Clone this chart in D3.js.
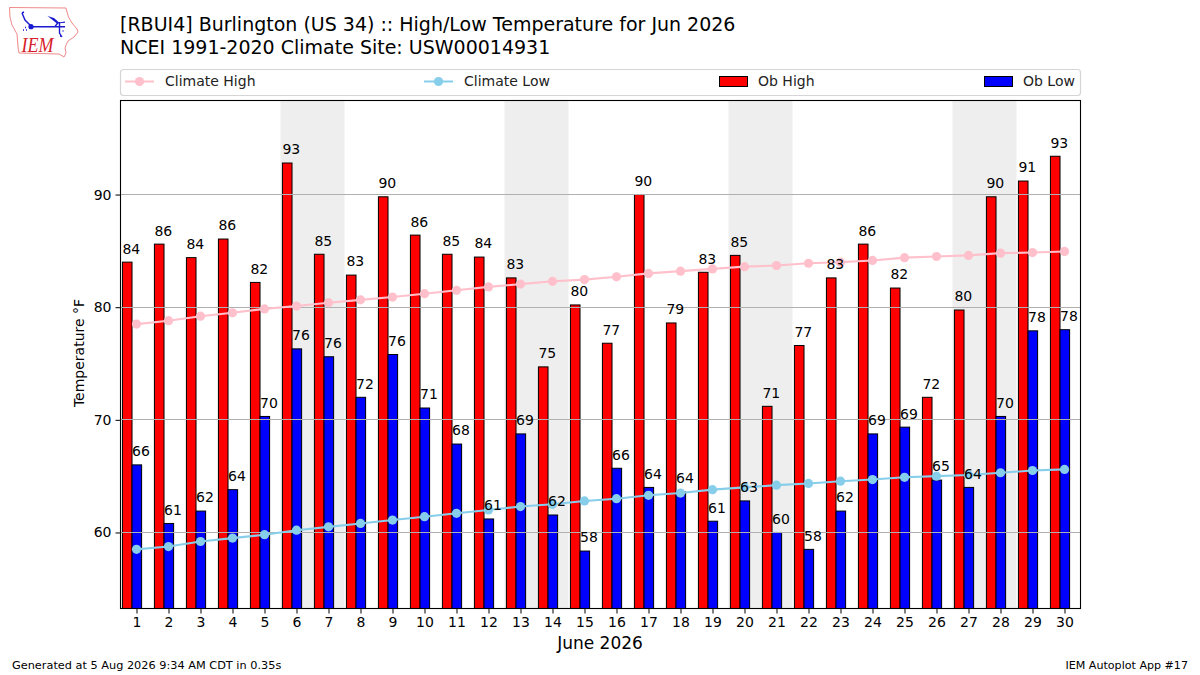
<!DOCTYPE html>
<html>
<head>
<meta charset="utf-8">
<script src="https://d3js.org/d3.v7.min.js"></script>
<style>
body { margin: 0; background: #fff; }
text { font-family: "DejaVu Sans", sans-serif; fill: #000; }
.tick text { font-size: 14px; }
.val { font-size: 14px; }
.leg { font-size: 14px; fill: #222; }
</style>
</head>
<body>
<svg id="chart" width="1200" height="675"></svg>
<script>
var days = d3.range(1, 31);
var obHigh = [84.0, 85.6, 84.4, 86.05, 82.2, 92.8, 84.7, 82.85, 89.8, 86.4, 84.7, 84.45, 82.6, 74.7, 80.2,
    76.8, 90.0, 78.6, 83.1, 84.6, 71.2, 76.6, 82.6, 85.6, 81.7, 72.0, 79.75, 89.8, 91.2, 93.4];
var obLow = [66.0, 60.8, 61.9, 63.8, 70.3, 76.3, 75.6, 72.0, 75.8, 71.05, 67.85, 61.2, 68.75, 61.55, 58.35,
    65.7, 64.0, 63.6, 61.0, 62.8, 60.0, 58.5, 61.9, 68.75, 69.35, 64.65, 64.0, 70.3, 77.9, 78.0];
var highLabels = [84, 86, 84, 86, 82, 93, 85, 83, 90, 86, 85, 84, 83, 75, 80, 77, 90, 79, 83, 85, 71, 77, 83, 86, 82, 72, 80, 90, 91, 93];
var lowLabels = [66, 61, 62, 64, 70, 76, 76, 72, 76, 71, 68, 61, 69, 62, 58, 66, 64, 64, 61, 63, 60, 58, 62, 69, 69, 65, 64, 70, 78, 78];
var climateHigh = [78.5, 78.8, 79.2, 79.5, 79.85, 80.1, 80.4, 80.65, 80.9, 81.2, 81.5, 81.8, 82.05, 82.3, 82.45,
    82.7, 83.0, 83.2, 83.4, 83.6, 83.7, 83.9, 84.0, 84.15, 84.4, 84.5, 84.6, 84.8, 84.85, 84.95];
var climateLow = [58.5, 58.75, 59.2, 59.5, 59.8, 60.2, 60.5, 60.8, 61.1, 61.4, 61.7, 62.0, 62.3, 62.5, 62.8,
    63.0, 63.3, 63.5, 63.8, 64.0, 64.2, 64.35, 64.55, 64.7, 64.9, 65.0, 65.1, 65.3, 65.5, 65.6];
var weekends = [[6, 7], [13, 14], [20, 21], [27, 28]];
var yTicks = [60, 70, 80, 90];

var svg = d3.select("#chart");

var left = 120.5, right = 1080.5, top_ = 100.5, bottom = 608.5;
var x = d3.scaleLinear().domain([0.5, 30.5]).range([left, right]);
var y = d3.scaleLinear().domain([53.25, 98.35]).range([bottom, top_]);
var barW = 0.3;
var barOff = -0.14;

// logo
var logo = svg.append("g");
logo.append("path")
    .attr("d", "M9.5,7.5 L66,8 L67,12 L68.5,17 L72,23 L77,29 L78,32 L74,37 L68,41 L66.5,44 L65,48 L66,53 L64,57 L59,54 L19,53 L18,47 L17,34 L12,25 L10,17 Z")
    .attr("fill", "#fff").attr("stroke", "#f08a8a").attr("stroke-width", 1);
logo.append("path")
    .attr("d", "M31,26.7 L65,26.7 M58,22.5 L55,26.7 M59.5,22 L59.5,33 L62,37 M22,13 L25,20 L31,26 M22,13 L24,12")
    .attr("fill", "none").attr("stroke", "#1a1ad0").attr("stroke-width", 1.4);
logo.append("circle").attr("cx", 31).attr("cy", 26.7).attr("r", 2.6).attr("fill", "#1a1ad0");
logo.append("path").attr("d", "M47.5,16 L54,18 L59,22.5 L65,21.5 L65,22.8 L57,23.5 Z").attr("fill", "#1a1ad0");
logo.append("path").attr("d", "M23,30 h1 M25,27.5 h1 M26,30 h1 M59,30 h1 M62.5,31 h1 M60,36 h1")
    .attr("stroke", "#1a1ad0").attr("stroke-width", 1.5);
logo.append("text").attr("x", 21.5).attr("y", 51.7).attr("textLength", 32).attr("lengthAdjust", "spacingAndGlyphs")
    .style("font-family", "Liberation Serif").style("font-style", "italic").style("font-size", "22px")
    .style("fill", "#d8202a").text("IEM");

// titles
svg.append("text").attr("x", 120).attr("y", 31).style("font-size", "19px").text("[RBUI4] Burlington (US 34) :: High/Low Temperature for Jun 2026");
svg.append("text").attr("x", 120).attr("y", 54).style("font-size", "19px").text("NCEI 1991-2020 Climate Site: USW00014931");

// legend
svg.append("rect").attr("x", 120.5).attr("y", 69.5).attr("width", 960).attr("height", 26).attr("rx", 3)
    .attr("fill", "#fff").attr("stroke", "#d5d5d5").attr("stroke-width", 1.2);
var legLines = [["Climate High", "pink", 125], ["Climate Low", "skyblue", 424]];
legLines.forEach(function (d) {
    svg.append("line").attr("x1", d[2]).attr("x2", d[2] + 29).attr("y1", 81.5).attr("y2", 81.5)
        .attr("stroke", d[1]).attr("stroke-width", 2);
    svg.append("circle").attr("cx", d[2] + 14.5).attr("cy", 81.5).attr("r", 4.6).attr("fill", d[1]);
    svg.append("text").attr("class", "leg").attr("x", d[2] + 40).attr("y", 86).text(d[0]);
});
var legBars = [["Ob High", "red", 719], ["Ob Low", "blue", 984]];
legBars.forEach(function (d) {
    svg.append("rect").attr("x", d[2] + 0.5).attr("y", 76.5).attr("width", 28).attr("height", 10)
        .attr("fill", d[1]).attr("stroke", "#000").attr("stroke-width", 1);
    svg.append("text").attr("class", "leg").attr("x", d[2] + 39).attr("y", 86).text(d[0]);
});

// weekend shading
svg.selectAll("rect.weekend").data(weekends).join("rect").attr("class", "weekend")
    .attr("x", function (d) { return x(d[0] - 0.5); })
    .attr("width", function (d) { return x(d[1] + 0.5) - x(d[0] - 0.5); })
    .attr("y", top_).attr("height", bottom - top_)
    .attr("fill", "#eeeeee");

// bars
function drawBars(values, color, shift) {
    svg.selectAll("rect.b" + color).data(values).join("rect").attr("class", "b" + color)
        .attr("x", function (d, i) { return x(days[i] + barOff + shift); })
        .attr("width", x(barW) - x(0))
        .attr("y", function (d) { return y(d); })
        .attr("height", function (d) { return bottom - y(d); })
        .attr("fill", color).attr("stroke", "#000").attr("stroke-width", 1);
}
drawBars(obHigh, "red", -barW);
drawBars(obLow, "blue", 0);

// grid
svg.selectAll("line.grid").data(yTicks).join("line").attr("class", "grid")
    .attr("x1", left).attr("x2", right)
    .attr("y1", function (d) { return Math.floor(y(d)) + 0.5; })
    .attr("y2", function (d) { return Math.floor(y(d)) + 0.5; })
    .attr("stroke", "#b0b0b0").attr("stroke-width", 1);

// climate lines
function drawClimate(values, color) {
    var line = d3.line().x(function (d, i) { return x(days[i]); }).y(function (d) { return y(d); });
    svg.append("path").attr("d", line(values)).attr("fill", "none").attr("stroke", color).attr("stroke-width", 2.1);
    svg.append("g").selectAll("circle").data(values).join("circle")
        .attr("cx", function (d, i) { return x(days[i]); })
        .attr("cy", function (d) { return y(d); })
        .attr("r", 4.6).attr("fill", color);
}
drawClimate(climateHigh, "pink");
drawClimate(climateLow, "skyblue");

// value labels
function drawLabels(values, labels, shift) {
    svg.append("g").selectAll("text").data(values).join("text").attr("class", "val")
        .attr("x", function (d, i) { return x(days[i] + barOff + shift); })
        .attr("y", function (d) { return y(d) - 8.6; })
        .text(function (d, i) { return labels[i]; });
}
drawLabels(obHigh, highLabels, -barW);
drawLabels(obLow, lowLabels, 0);

// axes
var xAxis = d3.axisBottom(x).tickValues(days).tickFormat(d3.format("d")).tickSize(5).tickPadding(4);
var yAxis = d3.axisLeft(y).tickValues(yTicks).tickSize(5).tickPadding(4);
var gx = svg.append("g").attr("transform", "translate(0," + bottom + ")").call(xAxis);
var gy = svg.append("g").attr("transform", "translate(" + left + ",0)").call(yAxis);
gx.select(".domain").remove();
gy.select(".domain").remove();
svg.append("rect").attr("x", left).attr("y", top_).attr("width", right - left).attr("height", bottom - top_)
    .attr("fill", "none").attr("stroke", "#000").attr("stroke-width", 1.1);

svg.append("text").attr("x", 600).attr("y", 649).attr("text-anchor", "middle").style("font-size", "17px").text("June 2026");
svg.append("text").attr("transform", "translate(84,353) rotate(-90)").attr("text-anchor", "middle").style("font-size", "14px").text("Temperature °F");

// footer
svg.append("text").attr("x", 12).attr("y", 669).style("font-size", "11.3px").text("Generated at 5 Aug 2026 9:34 AM CDT in 0.35s");
svg.append("text").attr("x", 1188).attr("y", 669).attr("text-anchor", "end").style("font-size", "11.1px").text("IEM Autoplot App #17");
</script>
</body>
</html>
